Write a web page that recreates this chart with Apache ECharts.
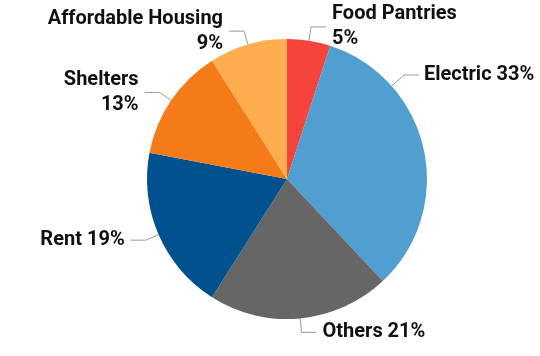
<!DOCTYPE html>
<html><head><meta charset="utf-8">
<script src="https://cdn.jsdelivr.net/npm/echarts@6/dist/echarts.min.js"></script>
<style>html,body{margin:0;padding:0;background:#fff}#c{width:540px;height:356px}</style>
</head><body><div id="c"></div>
<script>
const categories = ['Food Pantries', 'Electric', 'Others', 'Rent', 'Shelters', 'Affordable Housing'];
const values = [5, 33, 21, 19, 13, 9];
const twoLineLabels = ['Food Pantries', 'Shelters', 'Affordable Housing'];
const colors = ['#f5443b', '#519ed1', '#666666', '#02518f', '#f57b19', '#ffad4e'];

const CX = 287, CY = 179, R = 140, LEN2 = 15;
const chart = echarts.init(document.getElementById('c'), null, {renderer: 'canvas'});
chart.setOption({
  animation: false,
  color: colors,
  series: [{
    type: 'pie',
    center: [CX, CY],
    radius: R,
    startAngle: 90,
    clockwise: true,
    avoidLabelOverlap: false,
    emphasis: {disabled: true},
    data: categories.map((n, i) => ({name: n, value: values[i]})),
    label: {
      show: true,
      fontFamily: 'Roboto',
      fontWeight: 'bold',
      fontSize: 20,
      lineHeight: 25,
      color: '#111',
      distanceToLabelLine: 6,
      formatter: p => p.name + (twoLineLabels.includes(p.name) ? '\n' : ' ') + p.value + '%'
    },
    labelLine: {
      show: true,
      length: 14,
      length2: LEN2,
      lineStyle: {color: '#999', width: 1}
    },
    labelLayout: function (params) {
      if (params.dataIndex === 1) {
        const lx = 424, ly = 75;
        const p1 = [lx - 5 - LEN2, ly];
        const dx = p1[0] - CX, dy = p1[1] - CY, d = Math.hypot(dx, dy);
        const p0 = [CX + dx / d * R, CY + dy / d * R];
        return {x: lx, y: ly, align: 'left', verticalAlign: 'middle',
                labelLinePoints: [p0, p1, [lx - 5, ly]]};
      }
      return {};
    }
  }]
});
</script></body></html>
